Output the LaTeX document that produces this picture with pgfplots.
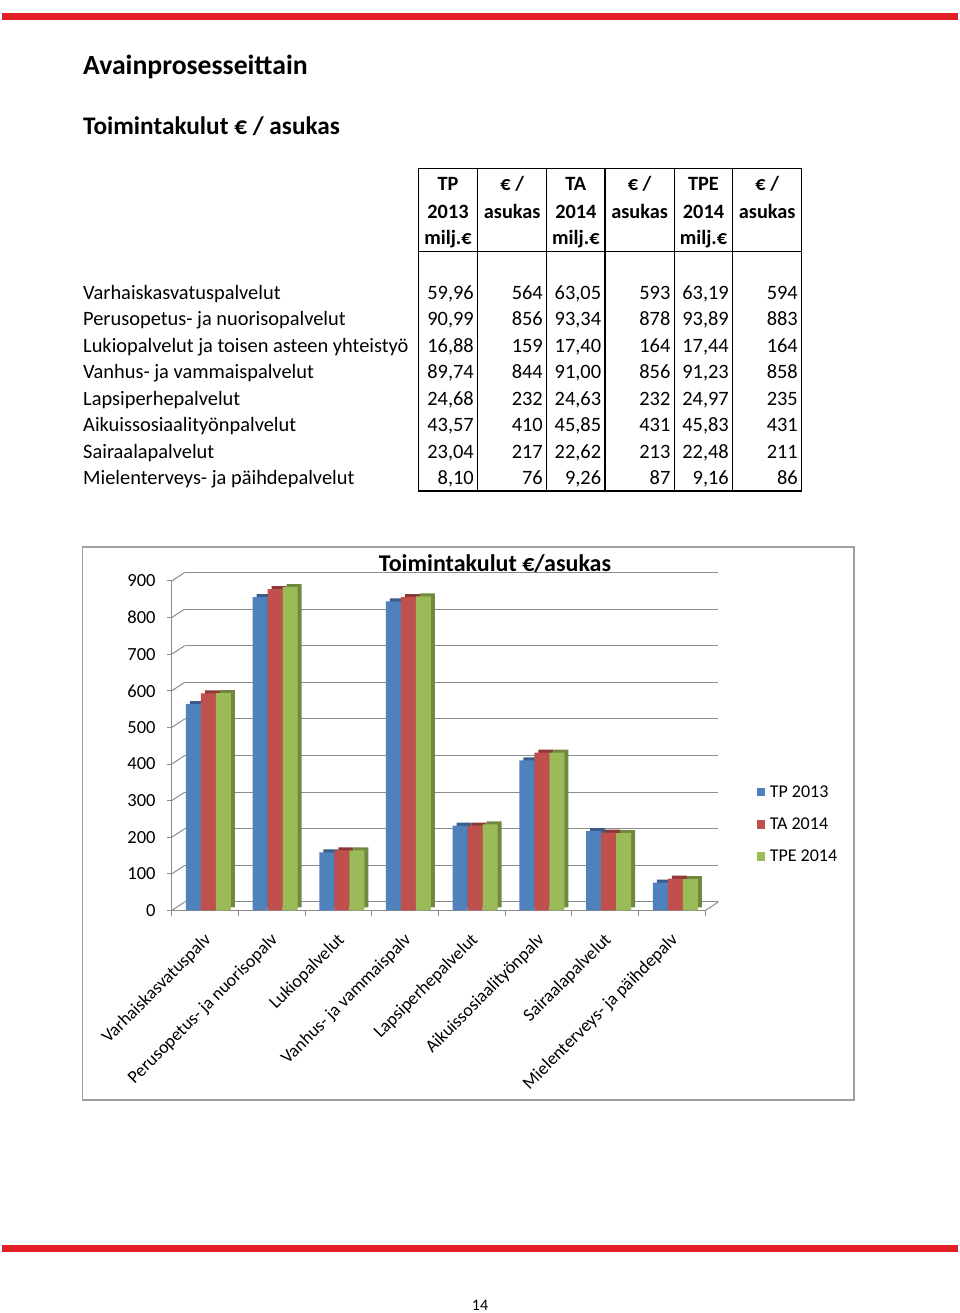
\documentclass[border=0pt]{standalone}
\usepackage{fontspec}
\setmainfont{Carlito}
\usepackage{pgfplots}
\usepackage{pgfplotstable}
\pgfplotsset{compat=1.18}

\definecolor{tpblue}{HTML}{4F81BD}
\definecolor{tpbluedk}{HTML}{385D8A}
\definecolor{tared}{HTML}{C0504D}
\definecolor{tareddk}{HTML}{8C3836}
\definecolor{tpegreen}{HTML}{9BBB59}
\definecolor{tpegreendk}{HTML}{71893F}
\definecolor{pagered}{RGB}{226,30,38}
\definecolor{gridgray}{RGB}{140,140,140}
\definecolor{boxgray}{RGB}{160,160,160}

\pgfplotstableread{
x tp ta tpe
0 564 593 594
1 856 878 883
2 159 164 164
3 844 856 858
4 232 232 235
5 410 431 431
6 217 213 211
7 76 87 86
}\costs

\newcommand\fs[1]{\fontsize{#1}{#1}\selectfont}
\newcommand\trow[8]{%
  \pgfmathsetmacro\yy{1313-299.3-26.5*#1}%
  \node[anchor=base west,inner sep=0pt] at (83,\yy) {#2};
  \node[anchor=base east,inner sep=0pt] at (474,\yy) {#3};
  \node[anchor=base east,inner sep=0pt] at (543,\yy) {#4};
  \node[anchor=base east,inner sep=0pt] at (601.3,\yy) {#5};
  \node[anchor=base east,inner sep=0pt] at (670.6,\yy) {#6};
  \node[anchor=base east,inner sep=0pt] at (729,\yy) {#7};
  \node[anchor=base east,inner sep=0pt] at (798,\yy) {#8};
}

\begin{document}
\begin{tikzpicture}[x=1pt,y=1pt]
\path[use as bounding box] (0,0) rectangle (960,1313);
\fill[white] (0,0) rectangle (960,1313);
% page bars
\fill[pagered] (2,1293) rectangle (958,1300);
\fill[pagered] (2,61) rectangle (958,68);
\node[anchor=base,inner sep=0pt,font=\fs{16}] at (480,2) {14};
% titles
\node[anchor=base west,inner sep=0pt,font=\bfseries\fs{27.7}] at (83,{1313-74.3}) {Avainprosesseittain};
\node[anchor=base west,inner sep=0pt,font=\bfseries\fs{25.3}] at (83,{1313-134.3}) {Toimintakulut € / asukas};
% table frame
\draw[line width=1.4pt] (418.3,{1313-168.3}) rectangle (801.7,{1313-491});
\foreach \cx in {477.7,546.7,605,674.3,732.7}
  \draw[line width=1.4pt] (\cx,{1313-168.3}) -- (\cx,{1313-491});
\draw[line width=1.4pt] (418.3,{1313-251.7}) -- (801.7,{1313-251.7});
% header
\begin{scope}[every node/.style={anchor=base,inner sep=0pt,font=\bfseries\fs{20.3}}]
\node at (448,{1313-190.7}) {TP};
\node at (448,{1313-219}) {2013};
\node at (448,{1313-245}) {milj.€};
\node at (512.2,{1313-190.7}) {€ /};
\node at (512.2,{1313-219}) {asukas};
\node at (575.85,{1313-190.7}) {TA};
\node at (575.85,{1313-219}) {2014};
\node at (575.85,{1313-245}) {milj.€};
\node at (639.65,{1313-190.7}) {€ /};
\node at (639.65,{1313-219}) {asukas};
\node at (703.5,{1313-190.7}) {TPE};
\node at (703.5,{1313-219}) {2014};
\node at (703.5,{1313-245}) {milj.€};
\node at (767.2,{1313-190.7}) {€ /};
\node at (767.2,{1313-219}) {asukas};
\end{scope}
% body
\begin{scope}[font=\fs{20.4}]
\trow{0}{Varhaiskasvatuspalvelut}{59,96}{564}{63,05}{593}{63,19}{594}
\trow{1}{Perusopetus- ja nuorisopalvelut}{90,99}{856}{93,34}{878}{93,89}{883}
\trow{2}{Lukiopalvelut ja toisen asteen yhteistyö}{16,88}{159}{17,40}{164}{17,44}{164}
\trow{3}{Vanhus- ja vammaispalvelut}{89,74}{844}{91,00}{856}{91,23}{858}
\trow{4}{Lapsiperhepalvelut}{24,68}{232}{24,63}{232}{24,97}{235}
\trow{5}{Aikuissosiaalityönpalvelut}{43,57}{410}{45,85}{431}{45,83}{431}
\trow{6}{Sairaalapalvelut}{23,04}{217}{22,62}{213}{22,48}{211}
\trow{7}{Mielenterveys- ja päihdepalvelut}{8,10}{76}{9,26}{87}{9,16}{86}
\end{scope}
% chart box
\draw[boxgray,line width=1.2pt] (82.5,{1313-547}) rectangle (854,{1313-1100});
\node[anchor=base,inner sep=0pt,font=\bfseries\fs{24}] at (495,{1313-572}) {Toimintakulut €/asukas};

\begin{axis}[
  at={(171.7pt,402.5pt)}, anchor=south west,
  scale only axis, width=533.6pt, height=329.5pt,
  xmin=-0.5, xmax=7.5, ymin=0, ymax=900,
  clip=false,
  axis x line*=bottom, axis y line*=left,
  axis line style={gridgray, line width=1pt, -},
  ytick={0,100,...,900},
  xtick={0,...,7},
  xticklabels={Varhaiskasvatuspalv,Perusopetus- ja nuorisopalv,Lukiopalvelut,Vanhus- ja vammaispalv,Lapsiperhepalvelut,Aikuissosiaalityönpalv,Sairaalapalvelut,Mielenterveys- ja päihdepalv},
  minor xtick={-0.5,0.5,...,7.5},
  tick align=outside,
  major tick length=5pt, minor tick length=6pt,
  tick style={gridgray, line width=1pt},
  major x tick style={draw=none},
  ymajorgrids,
  grid style={gridgray, line width=1pt, xshift=13pt, yshift=8.5pt},
  /pgf/number format/assume math mode=true,
  yticklabel style={font=\fs{18.5}, inner sep=0pt, xshift=-11pt},
  xticklabel style={font=\fs{18}, rotate=45, anchor=north east, inner sep=0pt, yshift=-10pt, xshift=-13pt},
  ybar, bar width=15pt,
  legend style={at={(1.0963,0.3794)}, anchor=north west, draw=none, fill=none,
    font=\fs{18}, row sep=19pt, inner sep=0pt,
    nodes={inner sep=0pt, anchor=west},
    /tikz/every odd column/.append style={column sep=4.5pt}},
  legend image code/.code={\fill[#1,draw=none] (0pt,-4.2pt) rectangle (8.4pt,4.2pt);},
  legend cell align=left,
]
\pgfplotsinvokeforeach{0,100,...,900}{\draw[gridgray,line width=1pt] (axis cs:-0.5,#1) -- ++(13pt,8.5pt);}
\draw[gridgray,line width=1pt] (axis cs:7.5,0) -- ++(13pt,8.5pt);
\addplot[forget plot, fill=tpbluedk, draw=none, bar shift=-11.7pt, xshift=4pt, yshift=3pt] table[x=x,y=tp]{\costs};
\addplot[forget plot, fill=tareddk, draw=none, bar shift=3.3pt, xshift=4pt, yshift=3pt] table[x=x,y=ta]{\costs};
\addplot[forget plot, fill=tpegreendk, draw=none, bar shift=18.3pt, xshift=4pt, yshift=3pt] table[x=x,y=tpe]{\costs};
\addplot[fill=tpblue, draw=none, bar shift=-11.7pt] table[x=x,y=tp]{\costs};
\addplot[fill=tared, draw=none, bar shift=3.3pt] table[x=x,y=ta]{\costs};
\addplot[fill=tpegreen, draw=none, bar shift=18.3pt] table[x=x,y=tpe]{\costs};
\legend{TP 2013,TA 2014,TPE 2014}
\end{axis}
\end{tikzpicture}
\end{document}
